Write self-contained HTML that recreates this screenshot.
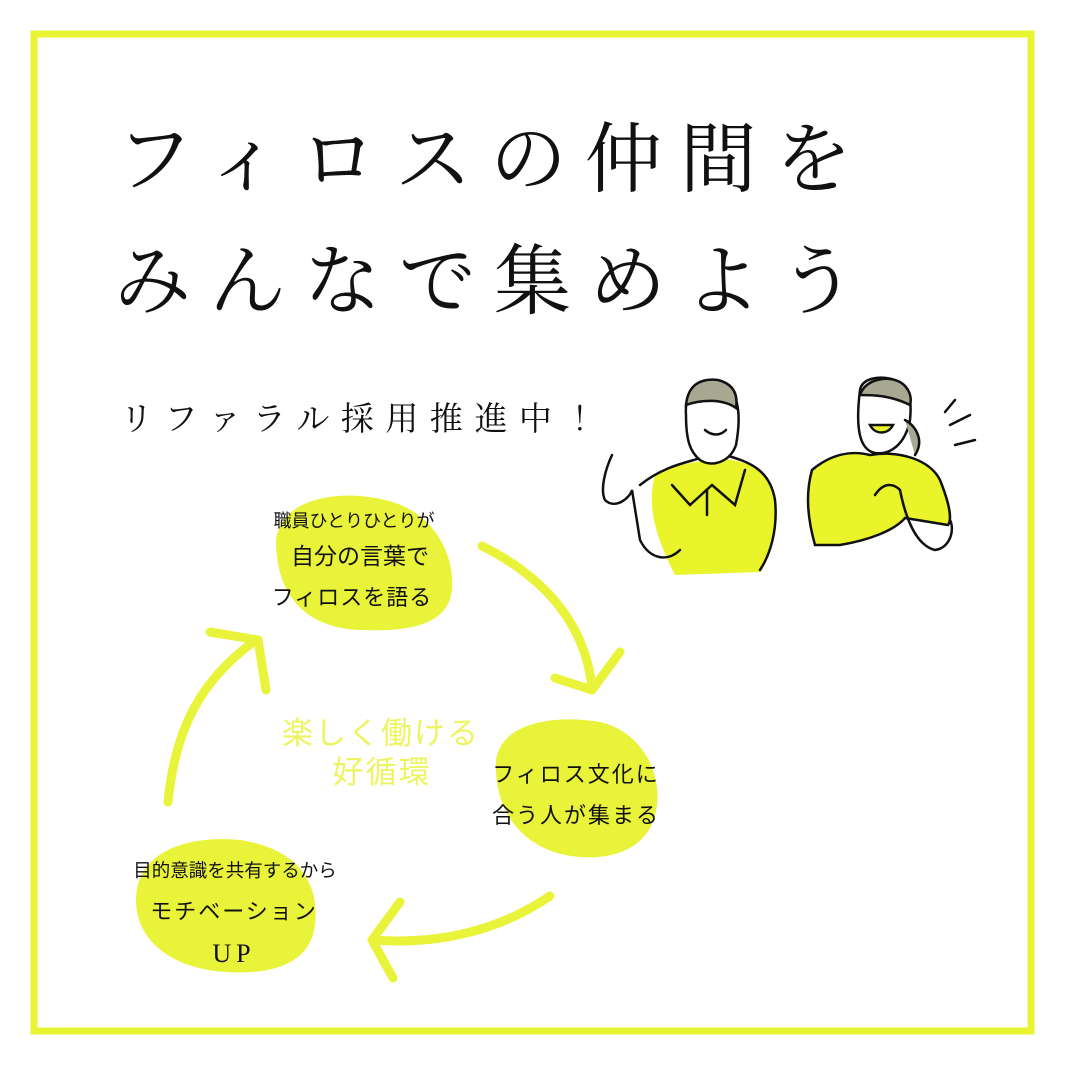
<!DOCTYPE html>
<html><head><meta charset="utf-8"><style>
html,body{margin:0;padding:0;background:#fff}
svg{display:block}
.s{font-family:"Liberation Serif","Noto Serif CJK JP",serif}
.g{font-family:"Liberation Sans","Noto Sans CJK JP",sans-serif}
</style></head><body>
<svg width="1065" height="1066" viewBox="0 0 1065 1066" xmlns="http://www.w3.org/2000/svg">
<rect x="34" y="34" width="997" height="997" fill="none" stroke="#e8f432" stroke-width="7"/>
<text class="s" x="116" y="186" font-size="77" letter-spacing="18" fill="#111">フィロスの仲間を</text>
<text class="s" x="114" y="308" font-size="77" letter-spacing="18" fill="#111">みんなで集めよう</text>
<text class="s" x="120" y="430" font-size="33" letter-spacing="11.5" fill="#111">リファラル採用推進中！</text>

<!-- blobs -->
<path d="M276,540 C282,495 345,490 385,500 C430,510 455,550 452,590 C448,625 410,632 360,630 C310,628 276,600 276,540 Z" fill="#e9f33a"/>
<path d="M496,760 C502,720 560,715 600,722 C645,732 665,780 655,815 C645,855 600,862 565,855 C520,845 494,810 496,760 Z" fill="#e9f33a"/>
<path d="M136,900 C136,850 190,835 240,840 C295,848 320,880 315,925 C310,965 270,975 225,972 C170,968 136,940 136,900 Z" fill="#e9f33a"/>

<!-- arrows -->
<g fill="none" stroke="#e9f33a" stroke-width="9" stroke-linecap="round" stroke-linejoin="round">
<path d="M482,546 C540,575 585,620 592,688"/>
<path d="M555,678 L592,690 L620,652"/>
<path d="M550,896 C500,930 440,945 374,940"/>
<path d="M400,902 L372,940 L393,978"/>
<path d="M168,802 C175,730 200,680 256,640"/>
<path d="M210,632 L258,640 L266,690"/>
</g>

<g class="g" fill="#111" text-anchor="middle">
<text x="354" y="527" font-size="18">職員ひとりひとりが</text>
<text x="360" y="564" font-size="23">自分の言葉で</text>
<text x="352" y="605" font-size="22" letter-spacing="1">フィロスを語る</text>
<text x="576" y="782" font-size="22" letter-spacing="2">フィロス文化に</text>
<text x="576" y="823" font-size="22" letter-spacing="2">合う人が集まる</text>
<text x="235" y="877" font-size="18.5">目的意識を共有するから</text>
<text x="234" y="919" font-size="22" letter-spacing="2">モチベーション</text>
<text x="234" y="962" font-size="26" letter-spacing="5" class="s">UP</text>
</g>
<g class="g" fill="#eef460" text-anchor="middle" font-size="31">
<text x="381" y="744" letter-spacing="2">楽しく働ける</text>
<text x="382" y="783" letter-spacing="2">好循環</text>
</g>

<!-- man -->
<g stroke="#111" stroke-width="2.5" fill="none" stroke-linecap="round">
<path d="M655,475 C680,462 700,462 720,458 C750,462 770,470 775,495 C778,530 770,560 760,572 L675,575 C660,545 645,510 655,475 Z" fill="#e9f52a" stroke="none"/>
<path d="M640,485 C665,465 690,462 700,458 M725,455 C750,462 770,470 775,500 C778,530 770,555 760,570"/>
<path d="M672,485 L690,505 L712,485 M712,485 L735,505 L745,470"/>
<path d="M707,490 L707,515"/>
<path d="M686,415 C684,390 700,382 720,384 C738,388 742,412 736,445 C730,462 712,468 700,460 C690,452 686,440 686,415 Z" fill="#fff"/>
<path d="M686,405 C688,385 700,378 718,380 C734,384 738,395 736,408 C722,398 700,400 686,405 Z" fill="#a8a892"/>
<path d="M705,430 C712,436 720,436 726,430"/>
<path d="M612,455 C605,470 600,490 605,500 C615,510 630,498 632,490 L640,540 C650,560 668,562 680,550"/>
</g>
<!-- woman -->
<g stroke="#111" stroke-width="2.5" fill="none" stroke-linecap="round">
<path d="M812,470 C830,455 850,450 870,455 C900,450 930,460 940,480 C950,505 952,520 948,525 L905,518 C895,530 870,540 840,545 L815,545 C808,520 805,495 812,470 Z" fill="#e9f52a"/>
<path d="M860,390 C862,378 880,375 895,380 C910,388 912,400 910,420 C905,445 890,455 875,453 C860,450 855,430 860,390 Z" fill="#fff"/>
<path d="M860,395 C865,380 885,375 900,382 C910,388 912,398 910,405 C890,395 872,395 860,395 Z" fill="#a8a892"/>
<path d="M905,420 C915,425 925,440 915,455" fill="#a8a892"/>
<path d="M870,425 C875,435 888,435 893,425 Z" fill="#e9f52a"/>
<path d="M875,495 C885,480 895,485 900,490 C905,515 915,545 935,550 C950,548 955,530 950,520"/>
<path d="M945,412 L955,400 M950,425 L970,415 M955,445 L975,440"/>
</g>
</svg>
</body></html>
